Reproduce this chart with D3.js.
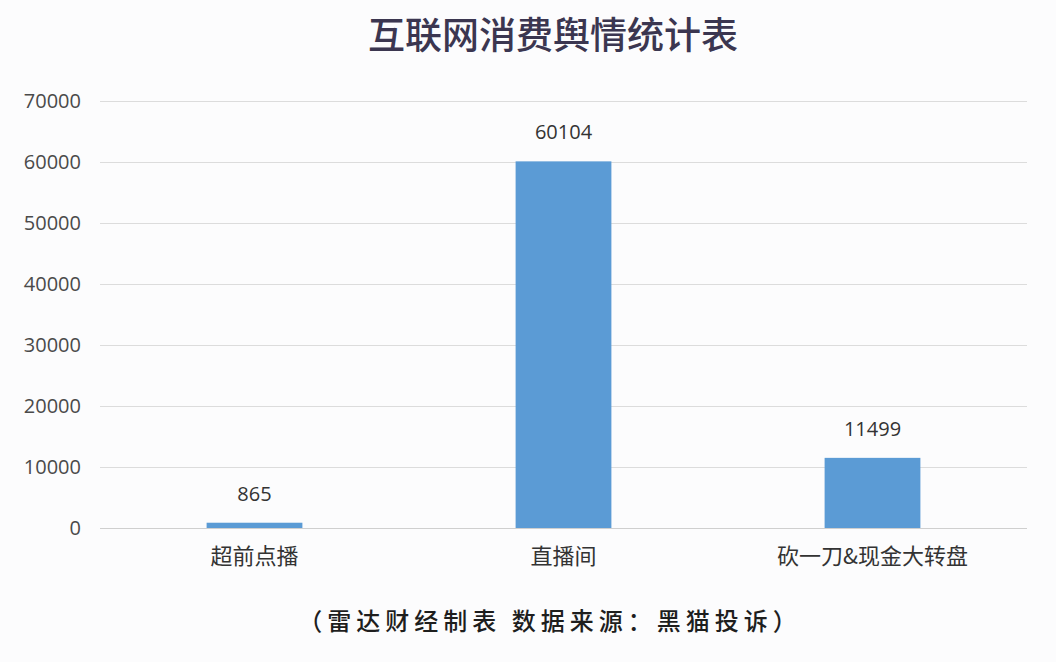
<!DOCTYPE html>
<html><head><meta charset="utf-8">
<script src="https://cdn.jsdelivr.net/npm/d3@7"></script>
<style>
html,body{margin:0;padding:0;background:#fcfcfd;}
svg{display:block;}
</style></head>
<body>
<svg id="chart" width="1056" height="662"></svg>
<script>
const title = "互联网消费舆情统计表";
const footer = "（雷达财经制表 数据来源：黑猫投诉）";
const categories = ["超前点播", "直播间", "砍一刀&现金大转盘"];
const values = [865, 60104, 11499];
const yTicks = [0, 10000, 20000, 30000, 40000, 50000, 60000, 70000];

const svg = d3.select("#chart");
const W = 1056, H = 662;
const m = {left: 100, right: 29, top: 101, bottom: 134};
const x = d3.scaleBand().domain(categories).range([m.left, W - m.right]).paddingInner(0.69).paddingOuter(0.345);
const y = d3.scaleLinear().domain([0, 70000]).range([H - m.bottom, m.top]);

svg.append("rect").attr("width", W).attr("height", H).attr("fill", "#fcfcfd");

// grid
const gy = svg.append("g").attr("transform", `translate(${m.left},0)`)
  .call(d3.axisLeft(y).tickValues(yTicks).tickSize(-(W - m.left - m.right)).tickPadding(19).tickFormat(d3.format("d")));
gy.select(".domain").remove();
gy.selectAll(".tick line").attr("stroke", d => d === 0 ? "#cfcfcf" : "#dcdcdc").attr("stroke-width", 1);
gy.selectAll(".tick text").attr("font-family", "'Open Sans','Noto Sans',sans-serif").attr("font-size", 20).attr("fill", "#4a4a4a");

// bars
svg.append("g").selectAll("rect").data(values).join("rect")
  .attr("x", (d, i) => x(categories[i]))
  .attr("width", x.bandwidth())
  .attr("y", d => y(d))
  .attr("height", d => y(0) - y(d))
  .attr("fill", "#5b9bd5");

// value labels
svg.append("g").selectAll("text").data(values).join("text")
  .attr("x", (d, i) => x(categories[i]) + x.bandwidth() / 2)
  .attr("y", d => y(d) - 22)
  .attr("text-anchor", "middle")
  .attr("font-family", "'Open Sans','Noto Sans',sans-serif")
  .attr("font-size", 20).attr("fill", "#333")
  .text(d => d);

// category labels
const gx = svg.append("g").attr("transform", `translate(0,${H - m.bottom})`)
  .call(d3.axisBottom(x).tickSize(0).tickPadding(20));
gx.select(".domain").remove();
gx.selectAll(".tick text").attr("font-family", "'Noto Sans CJK SC',sans-serif").attr("font-size", 22).attr("fill", "#333");

// title
svg.append("text").attr("x", 553).attr("y", 49).attr("text-anchor", "middle")
  .attr("font-family", "'Noto Sans CJK SC',sans-serif").attr("font-weight", 500)
  .attr("font-size", 37).attr("fill", "#3b3650").text(title);

// footer
svg.append("text").attr("x", 550).attr("y", 630).attr("text-anchor", "middle")
  .attr("font-family", "'Noto Sans CJK SC',sans-serif").attr("font-weight", 500)
  .attr("font-size", 24).attr("letter-spacing", 5).attr("fill", "#1e1e1e").text(footer);
</script>
</body></html>
